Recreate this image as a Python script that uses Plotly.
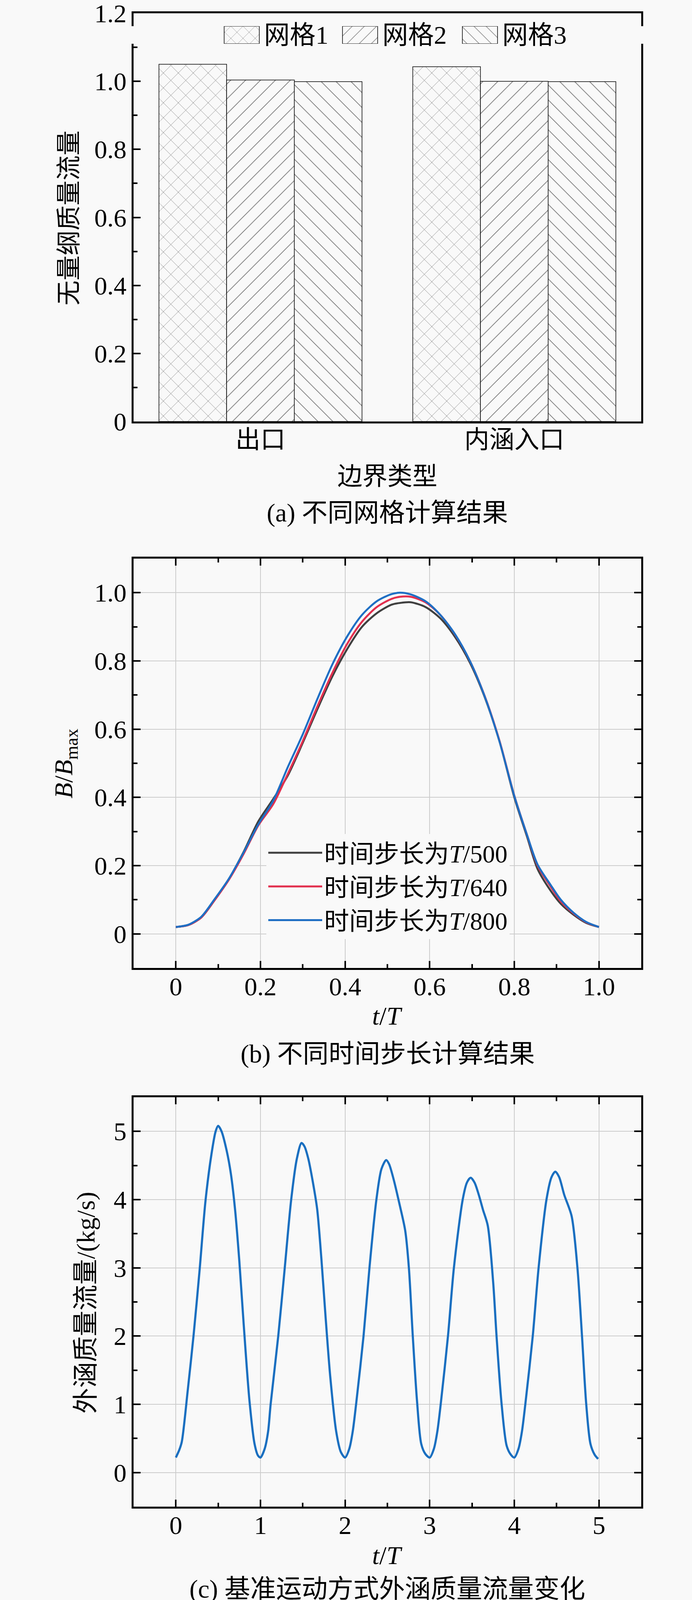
import plotly.graph_objects as go

# ---- (a) grid independence ----
categories = ["出口", "内涵入口"]
mesh_names = ["网格1", "网格2", "网格3"]
mesh1 = [1.050, 1.043]
mesh2 = [1.004, 1.000]
mesh3 = [0.999, 0.999]
ticks_a = [0, 0.2, 0.4, 0.6, 0.8, 1.0, 1.2]
ticklabels_a = ["0", "0.2", "0.4", "0.6", "0.8", "1.0", "1.2"]

# ---- (b) time step independence ----
t_b = [0.0, 0.03, 0.06, 0.09, 0.125, 0.16, 0.195, 0.23, 0.265, 0.3, 0.335, 0.37,
       0.405, 0.44, 0.475, 0.51, 0.53, 0.555, 0.59, 0.625, 0.66, 0.695, 0.73,
       0.765, 0.8, 0.83, 0.855, 0.885, 0.91, 0.94, 0.97, 1.0]
b_500 = [0.02, 0.026, 0.048, 0.096, 0.160, 0.240, 0.330, 0.395, 0.465, 0.560, 0.660, 0.755,
         0.835, 0.900, 0.940, 0.965, 0.970, 0.972, 0.958, 0.925, 0.870, 0.795, 0.694,
         0.564, 0.400, 0.285, 0.190, 0.128, 0.088, 0.056, 0.032, 0.02]
b_640 = [0.02, 0.026, 0.048, 0.096, 0.158, 0.234, 0.318, 0.380, 0.470, 0.565, 0.668, 0.765,
         0.850, 0.915, 0.958, 0.982, 0.988, 0.988, 0.972, 0.935, 0.877, 0.800, 0.697,
         0.566, 0.405, 0.290, 0.200, 0.140, 0.095, 0.060, 0.034, 0.02]
b_800 = [0.02, 0.027, 0.050, 0.099, 0.161, 0.238, 0.321, 0.390, 0.490, 0.585, 0.690, 0.790,
         0.872, 0.935, 0.975, 0.996, 1.000, 0.995, 0.975, 0.935, 0.878, 0.800, 0.696,
         0.564, 0.404, 0.290, 0.203, 0.145, 0.100, 0.062, 0.035, 0.02]
step_names = ["时间步长为<i>T</i>/500", "时间步长为<i>T</i>/640", "时间步长为<i>T</i>/800"]
ticks_b = [0, 0.2, 0.4, 0.6, 0.8, 1.0]
ticklabels_b = ["0", "0.2", "0.4", "0.6", "0.8", "1.0"]

# ---- (c) bypass mass flow, 5 periods ----
t_c = [0.0, 0.04, 0.07, 0.14, 0.21, 0.28, 0.35, 0.42, 0.47, 0.5, 0.54, 0.6, 0.65, 0.7,
       0.75, 0.8, 0.87, 0.93, 0.97, 1.0,
       1.05, 1.09, 1.12, 1.21, 1.287, 1.363, 1.43, 1.485, 1.52, 1.565, 1.62, 1.67, 1.72,
       1.77, 1.825, 1.895, 1.95, 2.0,
       2.05, 2.09, 2.13, 2.218, 2.288, 2.37, 2.43, 2.486, 2.52, 2.573, 2.64, 2.71, 2.754,
       2.8, 2.85, 2.9, 2.95, 3.0,
       3.05, 3.09, 3.13, 3.216, 3.286, 3.39, 3.44, 3.484, 3.53, 3.58, 3.63, 3.686, 3.75,
       3.79, 3.85, 3.91, 3.96, 4.0,
       4.05, 4.09, 4.13, 4.218, 4.287, 4.38, 4.44, 4.485, 4.53, 4.59, 4.677, 4.746, 4.8,
       4.85, 4.9, 4.95, 4.99]
q_c = [0.22, 0.33, 0.45, 1.20, 2.02, 2.96, 3.98, 4.66, 5.00, 5.08, 5.00, 4.72, 4.38, 3.85,
       3.10, 2.20, 1.05, 0.42, 0.25, 0.22,
       0.35, 0.60, 1.00, 2.00, 3.00, 4.00, 4.60, 4.83, 4.78, 4.60, 4.25, 3.86, 3.13,
       2.27, 1.40, 0.60, 0.30, 0.22,
       0.35, 0.60, 1.00, 2.00, 3.00, 4.00, 4.45, 4.58, 4.52, 4.30, 3.95, 3.55, 3.00,
       2.00, 1.05, 0.42, 0.27, 0.22,
       0.35, 0.60, 1.00, 2.00, 3.00, 4.00, 4.25, 4.32, 4.25, 4.07, 3.85, 3.62, 2.79,
       2.00, 1.00, 0.39, 0.26, 0.22,
       0.35, 0.60, 1.00, 2.00, 3.00, 4.00, 4.33, 4.41, 4.33, 4.07, 3.76, 3.00, 2.00,
       1.00, 0.42, 0.26, 0.20]
ticks_c = [0, 1, 2, 3, 4, 5]

bg = "#f9f9f9"
serif = "Liberation Serif, Noto Sans CJK SC"
fs = 64
W, H = 1772, 4119

fig = go.Figure()

# bars
shapes_a = ["x", "/", "\\"]

def hatch(shp):
    return dict(shape=shp, fgcolor="#707070", bgcolor=bg, size=27,
                solidity=0.06, fillmode="replace")

for name, vals, shp in zip(mesh_names, [mesh1, mesh2, mesh3], shapes_a):
    fig.add_trace(go.Bar(
        x=categories, y=vals, name=name, xaxis="x", yaxis="y", showlegend=False,
        marker=dict(color=bg, line=dict(color="black", width=1.5), pattern=hatch(shp)),
    ))

# legend swatches for (a): big hatched boxes on a hidden pixel-scaled axis
sw_left = [574, 877, 1184]
sw_w = 90
fig.add_trace(go.Bar(
    y=[0, 0, 0], x=[sw_w] * 3, base=sw_left, orientation="h", width=1,
    xaxis="x4", yaxis="y4", showlegend=False, hoverinfo="skip",
    marker=dict(color=bg, line=dict(color="black", width=1.5),
                pattern=dict(shape=shapes_a, fgcolor="#707070", bgcolor=bg,
                             size=22, solidity=0.06, fillmode="replace")),
))

# time step curves
for name, vals, col in zip(step_names, [b_500, b_640, b_800],
                           ["#404040", "#e2304f", "#1f6fc4"]):
    fig.add_trace(go.Scatter(
        x=t_b, y=vals, name=name, mode="lines", xaxis="x2", yaxis="y2",
        legend="legend2",
        line=dict(color=col, width=5, shape="spline", smoothing=0.8),
    ))

# mass flow curve
fig.add_trace(go.Scatter(
    x=t_c, y=q_c, mode="lines", xaxis="x3", yaxis="y3", showlegend=False,
    line=dict(color="#1a6fc0", width=5.5, shape="spline", smoothing=0.8),
))

xdom = [342 / W, 1642 / W]
tickfont = dict(family=serif, size=66, color="black")
frame = dict(showline=True, linecolor="black", linewidth=4.5, zeroline=False,
             automargin=False, ticklabeloverflow="allow")
tk = dict(ticks="inside", ticklen=18, tickwidth=4, tickcolor="black")
grid = dict(showgrid=True, gridcolor="#cccccc", gridwidth=2)

def minor(d):
    return dict(dtick=d, ticks="inside", ticklen=10, tickwidth=4,
                tickcolor="black", showgrid=False)

fig.update_layout(
    width=W, height=H,
    margin=dict(l=0, r=0, t=0, b=0, autoexpand=False),
    paper_bgcolor=bg, plot_bgcolor=bg,
    font=dict(family=serif, size=fs, color="black"),
    barmode="group", bargap=0.2, bargroupgap=0,
    showlegend=True,
    xaxis=dict(domain=xdom, anchor="y", mirror=True, ticks="", showgrid=False,
               tickfont=dict(family=serif, size=fs, color="black"),
               ticklabelstandoff=-14, **frame),
    yaxis=dict(domain=[1 - 1079 / H, 1 - 34 / H], anchor="x", range=[0, 1.2],
               tickvals=ticks_a, ticktext=ticklabels_a, mirror=True, showgrid=False,
               tickfont=tickfont, ticklabelstandoff=0, minor=minor(0.1), **tk, **frame),
    xaxis2=dict(domain=xdom, anchor="y2", range=[-0.1, 1.1], tickvals=ticks_b,
                ticktext=ticklabels_b, mirror="ticks", tickfont=tickfont,
                ticklabelstandoff=-14, minor=minor(0.1), **tk, **grid, **frame),
    yaxis2=dict(domain=[1 - 2478 / H, 1 - 1430 / H], anchor="x2", range=[-0.1, 1.1],
                tickvals=ticks_b, ticktext=ticklabels_b, mirror="ticks",
                tickfont=tickfont, ticklabelstandoff=0, minor=minor(0.1),
                **tk, **grid, **frame),
    xaxis3=dict(domain=xdom, anchor="y3", range=[-0.5, 5.5], tickvals=ticks_c,
                mirror="ticks", tickfont=tickfont, ticklabelstandoff=-14,
                minor=minor(0.5), **tk, **grid, **frame),
    yaxis3=dict(domain=[1 - 3857 / H, 1 - 2809 / H], anchor="x3", range=[-0.5, 5.5],
                tickvals=ticks_c, mirror="ticks", tickfont=tickfont,
                ticklabelstandoff=0, minor=minor(0.5), **tk, **grid, **frame),
    xaxis4=dict(domain=[0, 1], anchor="y4", range=[0, W], visible=False,
                fixedrange=True, automargin=False),
    yaxis4=dict(domain=[1 - 112 / H, 1 - 67 / H], anchor="x4", range=[-0.5, 0.5],
                visible=False, fixedrange=True, automargin=False),
    legend2=dict(x=682 / W, y=1 - 2135 / H, xanchor="left", yanchor="top",
                 bgcolor=bg, font=dict(family=serif, size=64), itemwidth=138,
                 traceorder="normal", tracegroupgap=0),
)

def note(text, x, y, angle=0, anchor="center", size=fs):
    fig.add_annotation(text=text, x=x, y=y, xref="paper", yref="paper",
                       showarrow=False, textangle=angle, xanchor=anchor,
                       yanchor="middle",
                       font=dict(family=serif, size=size, color="black"))

# legend texts for (a)
for name, left in zip(mesh_names, sw_left):
    note(name, (left + sw_w + 10) / W, 1 - 90 / H, anchor="left", size=66)

cx = 992 / W
note("无量纲质量流量", 176 / W, 1 - 558 / H, -90)
note("边界类型", cx, 1 - 1219 / H)
note("(a) 不同网格计算结果", cx, 1 - 1313 / H, size=66)
note("<i>B</i>/<i>B</i><sub>max</sub>", 167 / W, 1 - 1955 / H, -90, size=66)
note("<i>t</i>/<i>T</i>", cx, 1 - 2600 / H, size=66)
note("(b) 不同时间步长计算结果", cx, 1 - 2698 / H, size=66)
note("外涵质量流量/(kg/s)", 220 / W, 1 - 3335 / H, -90, size=66)
note("<i>t</i>/<i>T</i>", cx, 1 - 3981 / H, size=66)
note("(c) 基准运动方式外涵质量流量变化", cx, 1 - 4068 / H, size=66)

fig.write_html("out.html", config={"displayModeBar": False},
               post_script="document.body.style.margin='0px';")
